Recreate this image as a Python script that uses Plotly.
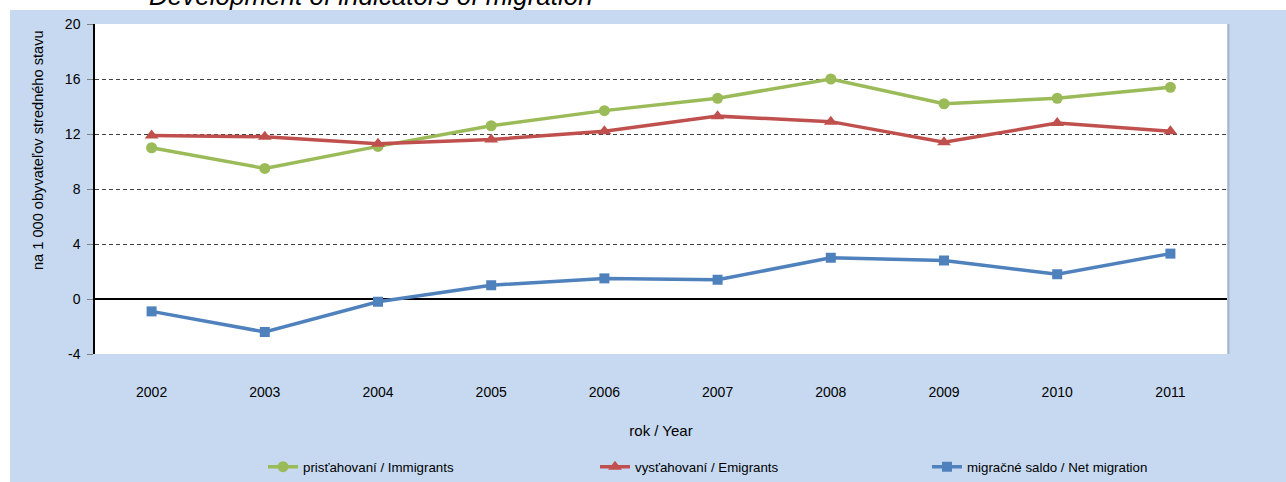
import plotly.graph_objects as go
import numpy as np

# data
years = ['2002', '2003', '2004', '2005', '2006', '2007', '2008', '2009', '2010', '2011']
immigrants = [11.0, 9.5, 11.1, 12.6, 13.7, 14.6, 16.0, 14.2, 14.6, 15.4]
emigrants = [11.9, 11.8, 11.3, 11.6, 12.2, 13.3, 12.9, 11.4, 12.8, 12.2]
net_migration = [-0.9, -2.4, -0.2, 1.0, 1.5, 1.4, 3.0, 2.8, 1.8, 3.3]
y_ticks = [-4, 0, 4, 8, 12, 16, 20]
y_labels = ['-4', '0', '4', '8', '12', '16', '20']

COLORS = {'imm': '#9BBB59', 'emi': '#C0504D', 'net': '#4F81BD', 'bg': '#C6D9F0'}
SANS = 'Liberation Sans, Arial'

W, H = 1286, 482
L, R, T, B = 95, 59, 24, 128
PW, PH = W - L - R, H - T - B


def px_x(px):
    return (px - L) / PW


def px_y(py):
    return (H - B - py) / PH


fig = go.Figure()

series = [
    ('prisťahovaní / Immigrants', immigrants, COLORS['imm'], 'circle', 11),
    ('vysťahovaní / Emigrants', emigrants, COLORS['emi'], 'triangle-up', 12),
    ('migračné saldo / Net migration', net_migration, COLORS['net'], 'square', 10),
]
for name, vals, col, sym, size in series:
    fig.add_trace(go.Scatter(
        x=years, y=vals, name=name, mode='lines+markers',
        line=dict(color=col, width=3.5),
        marker=dict(symbol=sym, size=size, color=col),
    ))

fig.update_layout(
    width=W, height=H,
    margin=dict(l=L, r=R, t=T, b=B, autoexpand=False),
    paper_bgcolor=COLORS['bg'], plot_bgcolor='white',
    showlegend=True,
    legend=dict(
        orientation='h', x=px_x(263), y=px_y(467), xanchor='left', yanchor='middle',
        entrywidth=287, entrywidthmode='pixels',
        font=dict(family=SANS, size=13.3, color='black'),
        bgcolor='rgba(0,0,0,0)',
    ),
    xaxis=dict(
        type='category', range=[-0.5, 9.5], showgrid=False, showline=False,
        ticks='', ticklabelstandoff=28, automargin=False,
        tickfont=dict(family=SANS, size=14, color='black'),
        title=dict(text='rok / Year', font=dict(family=SANS, size=15, color='black'), standoff=26),
    ),
    xaxis2=dict(
        overlaying='x', anchor='free', position=(0 - y_ticks[0]) / (y_ticks[-1] - y_ticks[0]),
        range=[-0.5, 9.5], tickvals=list(np.arange(-0.5, 10, 1)), showticklabels=False,
        ticks='outside', ticklen=5, tickcolor='black', tickwidth=1.5,
        showgrid=False, showline=False, zeroline=False,
    ),
    yaxis=dict(
        range=[y_ticks[0], y_ticks[-1]], tickvals=y_ticks, ticktext=y_labels, automargin=False,
        showgrid=True, gridcolor='#404040', griddash='4px,3px', gridwidth=1,
        zeroline=True, zerolinecolor='black', zerolinewidth=2,
        showline=True, linecolor='black', linewidth=1.5,
        ticks='outside', ticklen=6, tickcolor='#808080', ticklabelstandoff=4,
        tickfont=dict(family=SANS, size=14, color='black'),
    ),
    shapes=[
        # white strips outside the blue panel
        dict(type='rect', xref='paper', yref='paper', x0=px_x(0), x1=px_x(W), y0=px_y(10), y1=px_y(0),
             fillcolor='white', line=dict(width=0), layer='below'),
        dict(type='rect', xref='paper', yref='paper', x0=px_x(0), x1=px_x(10), y0=px_y(H), y1=px_y(0),
             fillcolor='white', line=dict(width=0), layer='below'),
        # shadow on right edge of the plot area
        dict(type='line', xref='paper', yref='paper', x0=px_x(1228.5), x1=px_x(1228.5), y0=0, y1=1,
             line=dict(color='#A6B5CC', width=2)),
    ],
    annotations=[
        dict(text='Development of indicators of migration', xref='paper', yref='paper',
             x=px_x(371), y=px_y(13), xanchor='center', yanchor='bottom', showarrow=False,
             font=dict(family=SANS, size=26, color='black', style='italic')),
        dict(text='na 1 000 obyvateľov stredného stavu', xref='paper', yref='paper',
             x=px_x(38), y=px_y(150), xanchor='center', yanchor='middle', textangle=-90,
             showarrow=False, font=dict(family=SANS, size=14.6, color='black')),
    ],
)

fig.write_html('out.html', config={'displayModeBar': False},
               post_script="document.body.style.margin='0px';")
